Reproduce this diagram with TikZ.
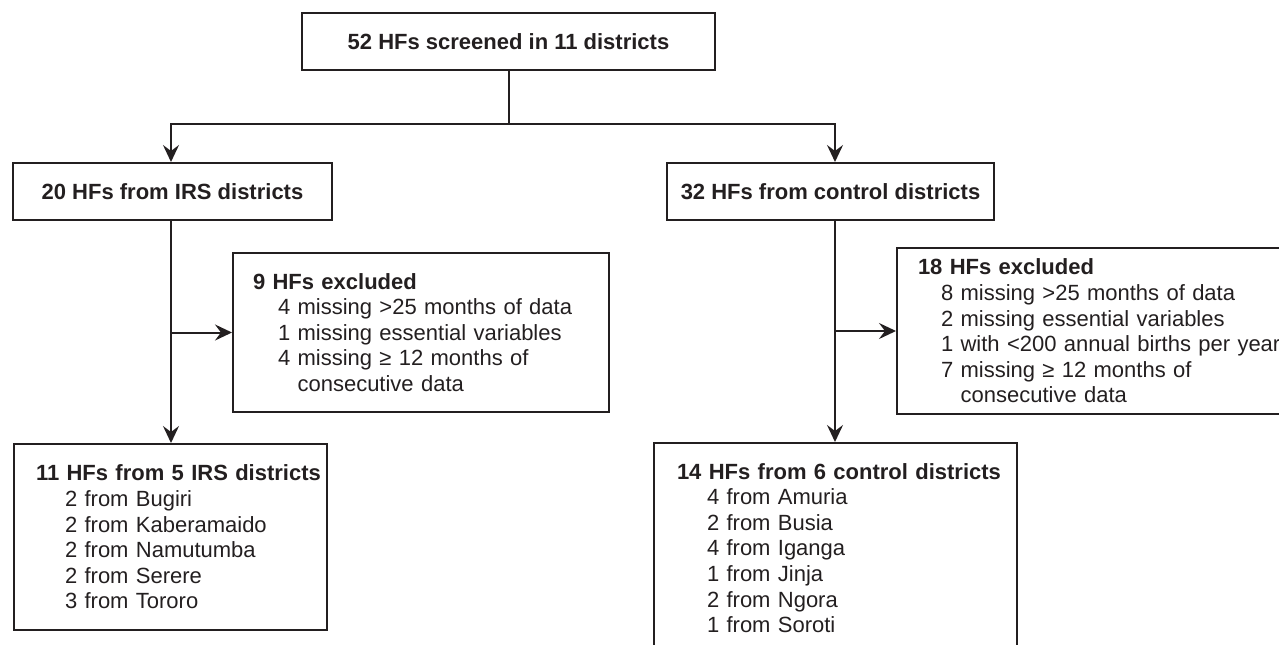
\documentclass[tikz,border=0pt]{standalone}
\usepackage{fontspec}
\setmainfont{Liberation Sans}
\usetikzlibrary{arrows.meta}
\definecolor{ink}{HTML}{231F20}
\begin{document}
\begin{tikzpicture}[x=0.5pt,y=-0.5pt,
  every node/.style={text=ink},
  onebox/.style={draw=ink, line width=1pt, anchor=north west, inner sep=0pt, align=center,
    font=\fontsize{11}{12.8}\selectfont\bfseries},
  listbox/.style={draw=ink, line width=1pt, anchor=north west, inner sep=0pt, align=left,
    font=\fontsize{11}{12.8}\selectfont},
  link/.style={draw=ink, line width=1pt},
  arr/.style={link, -{Stealth[length=8.5pt,width=8pt,inset=3pt]}}]
\useasboundingbox (0,0) rectangle (1279,644);
\clip (0,0) rectangle (1279,644);

\node[onebox, minimum width=206.5pt, minimum height=28.5pt] (top) at (301,12) {52 HFs screened in 11 districts};
\node[onebox, minimum width=159.5pt, minimum height=28.5pt] (irs) at (12,162) {20 HFs from IRS districts};
\node[onebox, minimum width=163.5pt, minimum height=28.5pt] (ctl) at (666,162) {32 HFs from control districts};

\node[listbox, text width=188pt, minimum height=79.5pt] (ex9) at (232,252) {%
\hspace*{10pt}\textbf{9 HFs excluded}\\
\hspace*{22.5pt}4 missing >25 months of data\\
\hspace*{22.5pt}1 missing essential variables\\
\hspace*{22.5pt}4 missing ≥ 12 months of\\
\hspace*{22.5pt}\phantom{4 }consecutive data};

\node[listbox, text width=212pt, minimum height=83pt] (ex18) at (896,247) {%
\hspace*{10.5pt}\textbf{18 HFs excluded}\\
\hspace*{22pt}8 missing >25 months of data\\
\hspace*{22pt}2 missing essential variables\\
\hspace*{22pt}1 with <200 annual births per year\\
\hspace*{22pt}7 missing ≥ 12 months of\\
\hspace*{22pt}\phantom{7 }consecutive data};

\node[listbox, text width=156.5pt, minimum height=93pt] (fin11) at (13,443) {%
\hspace*{11pt}\textbf{11 HFs from 5 IRS districts}\\
\hspace*{25.5pt}2 from Bugiri\\
\hspace*{25.5pt}2 from Kaberamaido\\
\hspace*{25.5pt}2 from Namutumba\\
\hspace*{25.5pt}2 from Serere\\
\hspace*{25.5pt}3 from Tororo};

\node[listbox, text width=181.5pt, minimum height=105pt] (fin14) at (653,442) {%
\hspace*{11.5pt}\textbf{14 HFs from 6 control districts}\\
\hspace*{26.5pt}4 from Amuria\\
\hspace*{26.5pt}2 from Busia\\
\hspace*{26.5pt}4 from Iganga\\
\hspace*{26.5pt}1 from Jinja\\
\hspace*{26.5pt}2 from Ngora\\
\hspace*{26.5pt}1 from Soroti};

\coordinate (lt) at (171,124);
\coordinate (rt) at (835,124);
\draw[arr] (top.south) |- (lt) -- (lt |- irs.north);
\draw[arr] (top.south) |- (rt) -- (rt |- ctl.north);
\draw[arr] (lt |- irs.south) -- (lt |- fin11.north);
\draw[arr] (lt |- ex9.west) -- (ex9.west);
\draw[arr] (rt |- ctl.south) -- (rt |- fin14.north);
\draw[arr] (rt |- ex18.west) -- (ex18.west);
\end{tikzpicture}
\end{document}
